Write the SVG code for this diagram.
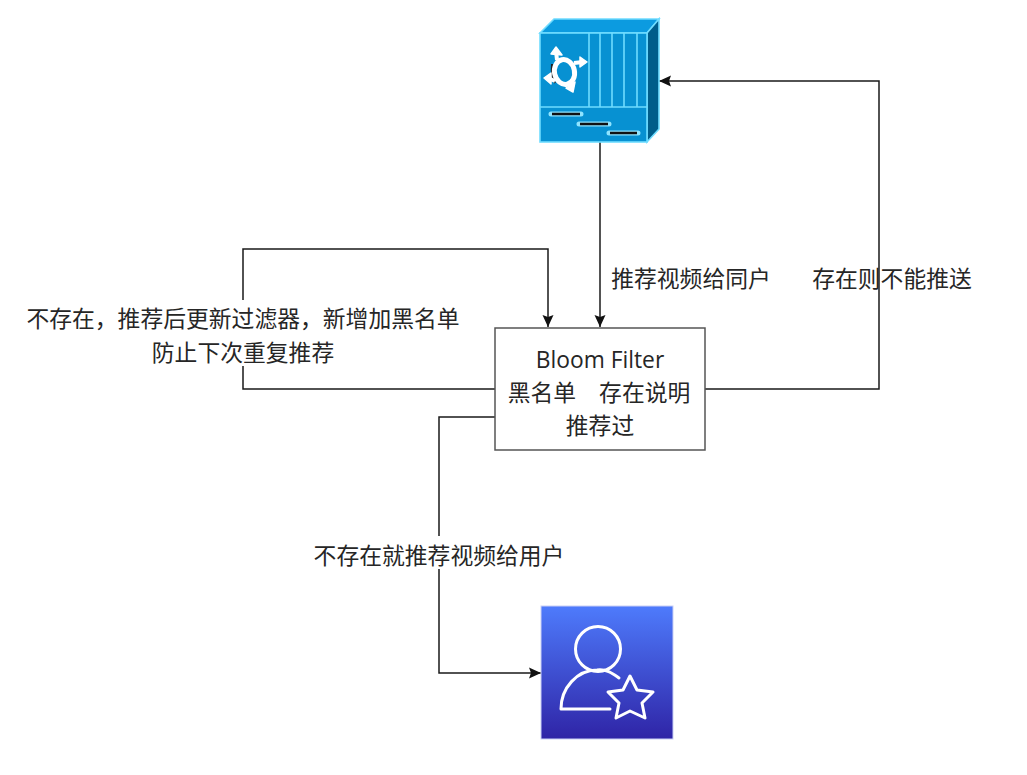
<svg xmlns="http://www.w3.org/2000/svg" width="1027" height="775" viewBox="0 0 1027 775">
<style>
text{font-family:"Noto Sans CJK SC","Noto Sans",sans-serif;font-size:22.8px;fill:#262626;text-anchor:middle}
.c{fill:none;stroke:#1a1a1a;stroke-width:1.5}
.w{fill:none;stroke:#fff;stroke-width:3;stroke-linecap:round;stroke-linejoin:round}
.e{stroke:#6fdcff;stroke-width:1.6}
.b{fill:#fff}
</style>
<defs>
<marker id="a" markerUnits="userSpaceOnUse" markerWidth="13" markerHeight="14" refX="12" refY="7" orient="auto"><path d="M0 1.5L12 7L0 12.5L2 7Z" fill="#111"/></marker>
<linearGradient id="g" x1="0" y1="0" x2="0" y2="1"><stop offset="0" stop-color="#4e7bfc"/><stop offset="1" stop-color="#2f24a6"/></linearGradient>
</defs>
<rect width="1027" height="775" fill="#fff"/>
<g id="connectors">
<path class="c" d="M600 142V327" marker-end="url(#a)"/>
<path class="c" d="M705 389H879V81H659" marker-end="url(#a)"/>
<path class="c" d="M495 389H243V249H548V327" marker-end="url(#a)"/>
<path class="c" d="M495 417H439V673H541" marker-end="url(#a)"/>
</g>
<g id="server">
<path class="e" d="M540 33L554 19H659L647 33Z" fill="#0c9be0"/>
<path class="e" d="M647 33L659 19V129L647 142Z" fill="#005d8a"/>
<rect class="e" x="540" y="33" width="107" height="109" fill="#0791d2"/>
<path class="e" fill="none" d="M540 107H647M589 33V107M600 33V107M612 33V107M624 33V107M637 33V107"/>
<path d="M551 114H581M579 124H609M609 133H638" stroke="#8fe4ff" stroke-width="5" stroke-linecap="round"/>
<path d="M552 114H580M580 124H608M610 133H637" stroke="#111" stroke-width="2.6"/>
<path d="M552 64Q551 76 555 83" fill="none" stroke="#222" stroke-width="2"/>
<ellipse cx="564.500" cy="72" rx="10" ry="12.500" transform="rotate(-12 564.500 72)" fill="none" stroke="#fff" stroke-width="5"/>
<path d="M557 60L556 51M574 63L583 62M555 81L548 78M571 83L572 90" fill="none" stroke="#fff" stroke-width="4"/>
<path d="M556 47L551 54L562 55ZM587 62L580 57L580 67ZM544 78L551 73L551 84ZM573 92L566 88L575 82Z" fill="#fff" stroke="#fff" stroke-width="1.500" stroke-linejoin="round"/>
</g>
<g id="filter">
<rect x="495" y="328" width="210" height="122" fill="#fff" stroke="#555" stroke-width="1.5"/>
<text x="600" y="367.500" style="font-family:'Open Sans','Noto Sans',sans-serif">Bloom Filter</text>
<text x="599" y="400.500">黑名单<tspan dx="23">存在说明</tspan></text>
<text x="600" y="433.500">推荐过</text>
</g>
<g id="user">
<rect x="541" y="606" width="132" height="133" fill="url(#g)" stroke="#c9cff5" stroke-width="1"/>
<circle cx="598" cy="649" r="22.500" class="w"/>
<path class="w" d="M610 709H561C561 688 577 670 597 670C607 669 612 673 619 678"/>
<path class="w" d="M630 676L637 690L653 692L642 703L645 718L630 711L616 718L619 703L608 692L623 690Z"/>
</g>
<g id="labels">
<rect class="b" x="26" y="300" width="433" height="66"/>
<rect class="b" x="313" y="536" width="252" height="33"/>
<text x="691" y="286.500">推荐视频给同户</text>
<text x="892" y="286.500">存在则不能推送</text>
<text x="243" y="326.500">不存在，推荐后更新过滤器，新增加黑名单</text>
<text x="243" y="360.500">防止下次重复推荐</text>
<text x="439" y="563.500">不存在就推荐视频给用户</text>
</g>
</svg>
